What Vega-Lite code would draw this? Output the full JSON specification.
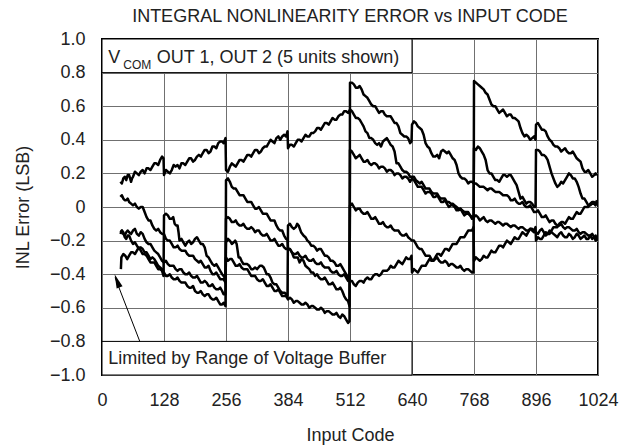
{
  "$schema": "https://vega.github.io/schema/vega-lite/v6.json",
  "width": 496,
  "height": 336,
  "autosize": {"type": "none"},
  "padding": {"left": 102, "top": 39, "right": 36, "bottom": 72},
  "background": "white",
  "config": {
    "view": {"stroke": "#000", "strokeWidth": 2},
    "font": "Liberation Sans",
    "axis": {
      "grid": true, "gridColor": "#707070", "gridWidth": 1, "domain": false, "ticks": false, "tickSize": 0,
      "labelFont": "Liberation Sans", "labelFontSize": 18, "labelColor": "#222", "labelFlush": false, "labelOverlap": false, "labelBound": false,
      "titleFont": "Liberation Sans", "titleFontSize": 18, "titleFontWeight": "normal", "titleColor": "#222"
    }
  },
  "title": {"text": "INTEGRAL NONLINEARITY ERROR vs INPUT CODE", "anchor": "middle", "frame": "group", "fontSize": 18, "fontWeight": "normal", "font": "Liberation Sans", "color": "#222", "offset": 4},
  "resolve": {"axis": {"x": "independent", "y": "independent"}},
  "datasets": {
    "inl": [
{"u":1,"c":38,"v":0.15},{"u":1,"c":44,"v":0.17},{"u":1,"c":50,"v":0.16},{"u":1,"c":56,"v":0.19},{"u":1,"c":60,"v":0.15},{"u":1,"c":64,"v":0.18},{"u":1,"c":72,"v":0.20},{"u":1,"c":80,"v":0.21},{"u":1,"c":88,"v":0.20},{"u":1,"c":96,"v":0.23},{"u":1,"c":104,"v":0.24},{"u":1,"c":112,"v":0.26},{"u":1,"c":120,"v":0.28},{"u":1,"c":127,"v":0.29},
{"u":1,"c":128,"v":0.19},{"u":1,"c":136,"v":0.21},{"u":1,"c":144,"v":0.22},{"u":1,"c":152,"v":0.24},{"u":1,"c":160,"v":0.23},{"u":1,"c":168,"v":0.26},{"u":1,"c":176,"v":0.27},{"u":1,"c":184,"v":0.29},{"u":1,"c":192,"v":0.28},{"u":1,"c":200,"v":0.31},{"u":1,"c":208,"v":0.32},{"u":1,"c":216,"v":0.34},{"u":1,"c":224,"v":0.33},{"u":1,"c":232,"v":0.36},{"u":1,"c":240,"v":0.38},{"u":1,"c":248,"v":0.39},{"u":1,"c":255,"v":0.41},
{"u":1,"c":256,"v":0.22},{"u":1,"c":264,"v":0.24},{"u":1,"c":272,"v":0.25},{"u":1,"c":280,"v":0.26},{"u":1,"c":288,"v":0.28},{"u":1,"c":296,"v":0.29},{"u":1,"c":304,"v":0.31},{"u":1,"c":312,"v":0.32},{"u":1,"c":320,"v":0.34},{"u":1,"c":328,"v":0.33},{"u":1,"c":336,"v":0.36},{"u":1,"c":344,"v":0.38},{"u":1,"c":352,"v":0.39},{"u":1,"c":360,"v":0.41},{"u":1,"c":368,"v":0.40},{"u":1,"c":376,"v":0.43},{"u":1,"c":383,"v":0.45},
{"u":1,"c":384,"v":0.35},{"u":1,"c":392,"v":0.37},{"u":1,"c":400,"v":0.38},{"u":1,"c":408,"v":0.40},{"u":1,"c":416,"v":0.41},{"u":1,"c":424,"v":0.42},{"u":1,"c":432,"v":0.44},{"u":1,"c":440,"v":0.45},{"u":1,"c":448,"v":0.47},{"u":1,"c":456,"v":0.48},{"u":1,"c":464,"v":0.50},{"u":1,"c":472,"v":0.51},{"u":1,"c":480,"v":0.52},{"u":1,"c":488,"v":0.54},{"u":1,"c":496,"v":0.55},{"u":1,"c":504,"v":0.57},{"u":1,"c":512,"v":0.58},
{"u":1,"c":520,"v":0.55},{"u":1,"c":528,"v":0.53},{"u":1,"c":536,"v":0.50},{"u":1,"c":544,"v":0.45},{"u":1,"c":552,"v":0.41},{"u":1,"c":560,"v":0.40},{"u":1,"c":568,"v":0.37},{"u":1,"c":576,"v":0.36},{"u":1,"c":584,"v":0.40},{"u":1,"c":592,"v":0.39},{"u":1,"c":600,"v":0.36},{"u":1,"c":608,"v":0.26},{"u":1,"c":616,"v":0.24},{"u":1,"c":624,"v":0.21},{"u":1,"c":632,"v":0.20},{"u":1,"c":640,"v":0.18},
{"u":1,"c":648,"v":0.16},{"u":1,"c":656,"v":0.14},{"u":1,"c":664,"v":0.13},{"u":1,"c":672,"v":0.11},{"u":1,"c":680,"v":0.09},{"u":1,"c":688,"v":0.08},{"u":1,"c":696,"v":0.06},{"u":1,"c":704,"v":0.05},{"u":1,"c":712,"v":0.03},{"u":1,"c":720,"v":0.02},{"u":1,"c":728,"v":0.01},{"u":1,"c":736,"v":-0.01},{"u":1,"c":744,"v":-0.02},{"u":1,"c":752,"v":-0.03},{"u":1,"c":760,"v":-0.05},{"u":1,"c":767,"v":-0.07},
{"u":1,"c":768,"v":0.35},{"u":1,"c":776,"v":0.36},{"u":1,"c":784,"v":0.33},{"u":1,"c":792,"v":0.28},{"u":1,"c":800,"v":0.20},{"u":1,"c":808,"v":0.18},{"u":1,"c":816,"v":0.16},{"u":1,"c":824,"v":0.17},{"u":1,"c":832,"v":0.19},{"u":1,"c":840,"v":0.19},{"u":1,"c":848,"v":0.17},{"u":1,"c":856,"v":0.13},{"u":1,"c":864,"v":0.05},{"u":1,"c":872,"v":0.04},{"u":1,"c":880,"v":0.03},{"u":1,"c":888,"v":0.02},{"u":1,"c":895,"v":0.0},
{"u":1,"c":896,"v":0.34},{"u":1,"c":904,"v":0.33},{"u":1,"c":912,"v":0.31},{"u":1,"c":920,"v":0.28},{"u":1,"c":928,"v":0.20},{"u":1,"c":936,"v":0.14},{"u":1,"c":944,"v":0.13},{"u":1,"c":952,"v":0.14},{"u":1,"c":960,"v":0.18},{"u":1,"c":968,"v":0.19},{"u":1,"c":976,"v":0.17},{"u":1,"c":984,"v":0.12},{"u":1,"c":992,"v":0.05},{"u":1,"c":1000,"v":0.03},{"u":1,"c":1008,"v":0.01},{"u":1,"c":1016,"v":0.02},{"u":1,"c":1022,"v":0.03},
{"u":1,"c":41,"v":0.14},{"u":1,"c":47,"v":0.18},{"u":1,"c":53,"v":0.19},{"u":1,"c":58,"v":0.17},{"u":1,"c":62,"v":0.17},{"u":1,"c":68,"v":0.21},{"u":1,"c":76,"v":0.19},{"u":1,"c":84,"v":0.22},{"u":1,"c":92,"v":0.23},{"u":1,"c":100,"v":0.22},{"u":1,"c":108,"v":0.26},{"u":1,"c":116,"v":0.25},{"u":1,"c":124,"v":0.30},
{"u":1,"c":132,"v":0.22},{"u":1,"c":140,"v":0.20},{"u":1,"c":148,"v":0.25},{"u":1,"c":156,"v":0.25},{"u":1,"c":164,"v":0.26},{"u":1,"c":172,"v":0.25},{"u":1,"c":180,"v":0.29},{"u":1,"c":188,"v":0.27},{"u":1,"c":196,"v":0.30},{"u":1,"c":204,"v":0.30},{"u":1,"c":212,"v":0.34},{"u":1,"c":220,"v":0.32},{"u":1,"c":228,"v":0.36},{"u":1,"c":236,"v":0.35},{"u":1,"c":244,"v":0.39},{"u":1,"c":251,"v":0.38},
{"u":1,"c":260,"v":0.21},{"u":1,"c":268,"v":0.26},{"u":1,"c":276,"v":0.24},{"u":1,"c":284,"v":0.28},{"u":1,"c":292,"v":0.27},{"u":1,"c":300,"v":0.31},{"u":1,"c":308,"v":0.30},{"u":1,"c":316,"v":0.34},{"u":1,"c":324,"v":0.32},{"u":1,"c":332,"v":0.35},{"u":1,"c":340,"v":0.36},{"u":1,"c":348,"v":0.40},{"u":1,"c":356,"v":0.38},{"u":1,"c":364,"v":0.42},{"u":1,"c":372,"v":0.42},{"u":1,"c":380,"v":0.42},
{"u":1,"c":388,"v":0.37},{"u":1,"c":396,"v":0.36},{"u":1,"c":404,"v":0.40},{"u":1,"c":412,"v":0.39},{"u":1,"c":420,"v":0.43},{"u":1,"c":428,"v":0.42},{"u":1,"c":436,"v":0.44},{"u":1,"c":444,"v":0.47},{"u":1,"c":452,"v":0.46},{"u":1,"c":460,"v":0.50},{"u":1,"c":468,"v":0.49},{"u":1,"c":476,"v":0.53},{"u":1,"c":484,"v":0.52},{"u":1,"c":492,"v":0.55},{"u":1,"c":500,"v":0.57},{"u":1,"c":508,"v":0.56},
{"u":1,"c":516,"v":0.57},{"u":1,"c":524,"v":0.53},{"u":1,"c":532,"v":0.52},{"u":1,"c":540,"v":0.48},{"u":1,"c":548,"v":0.44},{"u":1,"c":556,"v":0.41},{"u":1,"c":564,"v":0.38},{"u":1,"c":572,"v":0.38},{"u":1,"c":580,"v":0.39},{"u":1,"c":588,"v":0.41},{"u":1,"c":596,"v":0.37},{"u":1,"c":604,"v":0.33},{"u":1,"c":612,"v":0.26},{"u":1,"c":620,"v":0.22},{"u":1,"c":628,"v":0.21},{"u":1,"c":636,"v":0.18},
{"u":1,"c":644,"v":0.18},{"u":1,"c":652,"v":0.15},{"u":1,"c":660,"v":0.15},{"u":1,"c":668,"v":0.11},{"u":1,"c":676,"v":0.11},{"u":1,"c":684,"v":0.08},{"u":1,"c":692,"v":0.08},{"u":1,"c":700,"v":0.05},{"u":1,"c":708,"v":0.05},{"u":1,"c":716,"v":0.03},{"u":1,"c":724,"v":0.02},{"u":1,"c":732,"v":0.0},{"u":1,"c":740,"v":-0.01},{"u":1,"c":748,"v":-0.03},{"u":1,"c":756,"v":-0.03},{"u":1,"c":764,"v":-0.06},
{"u":1,"c":772,"v":0.34},{"u":1,"c":780,"v":0.35},{"u":1,"c":788,"v":0.31},{"u":1,"c":796,"v":0.22},{"u":1,"c":804,"v":0.20},{"u":1,"c":812,"v":0.16},{"u":1,"c":820,"v":0.15},{"u":1,"c":828,"v":0.19},{"u":1,"c":836,"v":0.18},{"u":1,"c":844,"v":0.19},{"u":1,"c":852,"v":0.15},{"u":1,"c":860,"v":0.09},{"u":1,"c":868,"v":0.06},{"u":1,"c":876,"v":0.02},{"u":1,"c":884,"v":0.03},{"u":1,"c":892,"v":0.0},
{"u":1,"c":900,"v":0.34},{"u":1,"c":908,"v":0.31},{"u":1,"c":916,"v":0.30},{"u":1,"c":924,"v":0.24},{"u":1,"c":932,"v":0.17},{"u":1,"c":940,"v":0.12},{"u":1,"c":948,"v":0.15},{"u":1,"c":956,"v":0.16},{"u":1,"c":964,"v":0.20},{"u":1,"c":972,"v":0.17},{"u":1,"c":980,"v":0.15},{"u":1,"c":988,"v":0.08},{"u":1,"c":996,"v":0.05},{"u":1,"c":1004,"v":0.01},{"u":1,"c":1012,"v":0.02},{"u":1,"c":1019,"v":0.01},

{"u":2,"c":38,"v":-0.16},{"u":2,"c":44,"v":-0.15},{"u":2,"c":50,"v":-0.19},{"u":2,"c":56,"v":-0.17},{"u":2,"c":64,"v":-0.22},{"u":2,"c":72,"v":-0.23},{"u":2,"c":80,"v":-0.24},{"u":2,"c":88,"v":-0.27},{"u":2,"c":96,"v":-0.29},{"u":2,"c":104,"v":-0.30},{"u":2,"c":112,"v":-0.33},{"u":2,"c":120,"v":-0.36},{"u":2,"c":128,"v":-0.39},
{"u":2,"c":136,"v":-0.41},{"u":2,"c":144,"v":-0.42},{"u":2,"c":152,"v":-0.43},{"u":2,"c":160,"v":-0.44},{"u":2,"c":168,"v":-0.45},{"u":2,"c":176,"v":-0.47},{"u":2,"c":184,"v":-0.48},{"u":2,"c":192,"v":-0.50},{"u":2,"c":200,"v":-0.51},{"u":2,"c":208,"v":-0.52},{"u":2,"c":216,"v":-0.52},{"u":2,"c":224,"v":-0.54},{"u":2,"c":232,"v":-0.55},{"u":2,"c":240,"v":-0.56},{"u":2,"c":248,"v":-0.58},{"u":2,"c":255,"v":-0.59},
{"u":2,"c":256,"v":0.16},{"u":2,"c":264,"v":0.15},{"u":2,"c":272,"v":0.11},{"u":2,"c":280,"v":0.09},{"u":2,"c":288,"v":0.07},{"u":2,"c":296,"v":0.05},{"u":2,"c":304,"v":0.03},{"u":2,"c":312,"v":0.01},{"u":2,"c":320,"v":-0.01},{"u":2,"c":328,"v":-0.02},{"u":2,"c":336,"v":-0.04},{"u":2,"c":344,"v":-0.06},{"u":2,"c":352,"v":-0.08},{"u":2,"c":360,"v":-0.11},{"u":2,"c":368,"v":-0.14},{"u":2,"c":376,"v":-0.17},{"u":2,"c":383,"v":-0.19},
{"u":2,"c":384,"v":-0.25},{"u":2,"c":392,"v":-0.27},{"u":2,"c":400,"v":-0.30},{"u":2,"c":408,"v":-0.33},{"u":2,"c":416,"v":-0.32},{"u":2,"c":424,"v":-0.36},{"u":2,"c":432,"v":-0.39},{"u":2,"c":440,"v":-0.41},{"u":2,"c":448,"v":-0.42},{"u":2,"c":456,"v":-0.43},{"u":2,"c":464,"v":-0.44},{"u":2,"c":472,"v":-0.46},{"u":2,"c":480,"v":-0.47},{"u":2,"c":488,"v":-0.49},{"u":2,"c":496,"v":-0.50},{"u":2,"c":504,"v":-0.55},{"u":2,"c":511,"v":-0.59},
{"u":2,"c":512,"v":0.34},{"u":2,"c":520,"v":0.31},{"u":2,"c":528,"v":0.30},{"u":2,"c":536,"v":0.29},{"u":2,"c":544,"v":0.27},{"u":2,"c":552,"v":0.26},{"u":2,"c":560,"v":0.26},{"u":2,"c":568,"v":0.25},{"u":2,"c":576,"v":0.24},{"u":2,"c":584,"v":0.23},{"u":2,"c":592,"v":0.22},{"u":2,"c":600,"v":0.21},{"u":2,"c":608,"v":0.20},{"u":2,"c":616,"v":0.19},{"u":2,"c":624,"v":0.18},{"u":2,"c":632,"v":0.17},{"u":2,"c":640,"v":0.17},
{"u":2,"c":648,"v":0.14},{"u":2,"c":656,"v":0.12},{"u":2,"c":664,"v":0.10},{"u":2,"c":672,"v":0.09},{"u":2,"c":680,"v":0.08},{"u":2,"c":688,"v":0.06},{"u":2,"c":696,"v":0.05},{"u":2,"c":704,"v":0.03},{"u":2,"c":712,"v":0.02},{"u":2,"c":720,"v":0.01},{"u":2,"c":728,"v":0.0},{"u":2,"c":736,"v":-0.02},{"u":2,"c":744,"v":-0.03},{"u":2,"c":752,"v":-0.04},{"u":2,"c":760,"v":-0.05},{"u":2,"c":768,"v":-0.06},
{"u":2,"c":776,"v":-0.06},{"u":2,"c":784,"v":-0.07},{"u":2,"c":792,"v":-0.08},{"u":2,"c":800,"v":-0.08},{"u":2,"c":808,"v":-0.09},{"u":2,"c":816,"v":-0.09},{"u":2,"c":824,"v":-0.10},{"u":2,"c":832,"v":-0.10},{"u":2,"c":840,"v":-0.11},{"u":2,"c":848,"v":-0.11},{"u":2,"c":856,"v":-0.12},{"u":2,"c":864,"v":-0.12},{"u":2,"c":872,"v":-0.13},{"u":2,"c":880,"v":-0.14},{"u":2,"c":888,"v":-0.14},{"u":2,"c":896,"v":-0.15},
{"u":2,"c":904,"v":-0.14},{"u":2,"c":912,"v":-0.15},{"u":2,"c":920,"v":-0.16},{"u":2,"c":928,"v":-0.15},{"u":2,"c":936,"v":-0.17},{"u":2,"c":944,"v":-0.16},{"u":2,"c":952,"v":-0.17},{"u":2,"c":960,"v":-0.18},{"u":2,"c":968,"v":-0.17},{"u":2,"c":976,"v":-0.18},{"u":2,"c":984,"v":-0.17},{"u":2,"c":992,"v":-0.18},{"u":2,"c":1000,"v":-0.19},{"u":2,"c":1008,"v":-0.17},{"u":2,"c":1016,"v":-0.18},{"u":2,"c":1022,"v":-0.19},
{"u":2,"c":41,"v":-0.14},{"u":2,"c":47,"v":-0.18},{"u":2,"c":53,"v":-0.17},{"u":2,"c":60,"v":-0.20},{"u":2,"c":68,"v":-0.21},{"u":2,"c":76,"v":-0.25},{"u":2,"c":84,"v":-0.25},{"u":2,"c":92,"v":-0.27},{"u":2,"c":100,"v":-0.31},{"u":2,"c":108,"v":-0.31},{"u":2,"c":116,"v":-0.35},{"u":2,"c":124,"v":-0.37},
{"u":2,"c":132,"v":-0.41},{"u":2,"c":140,"v":-0.40},{"u":2,"c":148,"v":-0.43},{"u":2,"c":156,"v":-0.42},{"u":2,"c":164,"v":-0.45},{"u":2,"c":172,"v":-0.45},{"u":2,"c":180,"v":-0.48},{"u":2,"c":188,"v":-0.47},{"u":2,"c":196,"v":-0.51},{"u":2,"c":204,"v":-0.50},{"u":2,"c":212,"v":-0.53},{"u":2,"c":220,"v":-0.52},{"u":2,"c":228,"v":-0.55},{"u":2,"c":236,"v":-0.54},{"u":2,"c":244,"v":-0.58},{"u":2,"c":251,"v":-0.57},
{"u":2,"c":260,"v":0.17},{"u":2,"c":268,"v":0.12},{"u":2,"c":276,"v":0.11},{"u":2,"c":284,"v":0.07},{"u":2,"c":292,"v":0.07},{"u":2,"c":300,"v":0.03},{"u":2,"c":308,"v":0.03},{"u":2,"c":316,"v":-0.01},{"u":2,"c":324,"v":0.0},{"u":2,"c":332,"v":-0.04},{"u":2,"c":340,"v":-0.04},{"u":2,"c":348,"v":-0.08},{"u":2,"c":356,"v":-0.08},{"u":2,"c":364,"v":-0.13},{"u":2,"c":372,"v":-0.14},{"u":2,"c":380,"v":-0.19},
{"u":2,"c":388,"v":-0.25},{"u":2,"c":396,"v":-0.30},{"u":2,"c":404,"v":-0.30},{"u":2,"c":412,"v":-0.31},{"u":2,"c":420,"v":-0.35},{"u":2,"c":428,"v":-0.37},{"u":2,"c":436,"v":-0.39},{"u":2,"c":444,"v":-0.40},{"u":2,"c":452,"v":-0.43},{"u":2,"c":460,"v":-0.42},{"u":2,"c":468,"v":-0.46},{"u":2,"c":476,"v":-0.45},{"u":2,"c":484,"v":-0.49},{"u":2,"c":492,"v":-0.48},{"u":2,"c":500,"v":-0.53},{"u":2,"c":508,"v":-0.56},
{"u":2,"c":516,"v":0.33},{"u":2,"c":524,"v":0.29},{"u":2,"c":532,"v":0.31},{"u":2,"c":540,"v":0.27},{"u":2,"c":548,"v":0.28},{"u":2,"c":556,"v":0.25},{"u":2,"c":564,"v":0.26},{"u":2,"c":572,"v":0.23},{"u":2,"c":580,"v":0.24},{"u":2,"c":588,"v":0.21},{"u":2,"c":596,"v":0.22},{"u":2,"c":604,"v":0.19},{"u":2,"c":612,"v":0.20},{"u":2,"c":620,"v":0.17},{"u":2,"c":628,"v":0.18},{"u":2,"c":636,"v":0.15},
{"u":2,"c":644,"v":0.16},{"u":2,"c":652,"v":0.12},{"u":2,"c":660,"v":0.12},{"u":2,"c":668,"v":0.08},{"u":2,"c":676,"v":0.09},{"u":2,"c":684,"v":0.06},{"u":2,"c":692,"v":0.07},{"u":2,"c":700,"v":0.03},{"u":2,"c":708,"v":0.04},{"u":2,"c":716,"v":0.0},{"u":2,"c":724,"v":0.01},{"u":2,"c":732,"v":-0.02},{"u":2,"c":740,"v":-0.01},{"u":2,"c":748,"v":-0.05},{"u":2,"c":756,"v":-0.04},{"u":2,"c":764,"v":-0.07},
{"u":2,"c":772,"v":-0.05},{"u":2,"c":780,"v":-0.08},{"u":2,"c":788,"v":-0.06},{"u":2,"c":796,"v":-0.09},{"u":2,"c":804,"v":-0.08},{"u":2,"c":812,"v":-0.10},{"u":2,"c":820,"v":-0.09},{"u":2,"c":828,"v":-0.11},{"u":2,"c":836,"v":-0.10},{"u":2,"c":844,"v":-0.12},{"u":2,"c":852,"v":-0.11},{"u":2,"c":860,"v":-0.13},{"u":2,"c":868,"v":-0.12},{"u":2,"c":876,"v":-0.14},{"u":2,"c":884,"v":-0.13},{"u":2,"c":892,"v":-0.15},
{"u":2,"c":900,"v":-0.16},{"u":2,"c":908,"v":-0.13},{"u":2,"c":916,"v":-0.17},{"u":2,"c":924,"v":-0.14},{"u":2,"c":932,"v":-0.16},{"u":2,"c":940,"v":-0.18},{"u":2,"c":948,"v":-0.15},{"u":2,"c":956,"v":-0.18},{"u":2,"c":964,"v":-0.16},{"u":2,"c":972,"v":-0.19},{"u":2,"c":980,"v":-0.16},{"u":2,"c":988,"v":-0.19},{"u":2,"c":996,"v":-0.17},{"u":2,"c":1004,"v":-0.19},{"u":2,"c":1012,"v":-0.19},{"u":2,"c":1019,"v":-0.17},

{"u":3,"c":39,"v":-0.37},{"u":3,"c":40,"v":-0.30},{"u":3,"c":48,"v":-0.29},{"u":3,"c":56,"v":-0.29},{"u":3,"c":64,"v":-0.27},{"u":3,"c":72,"v":-0.26},{"u":3,"c":80,"v":-0.26},{"u":3,"c":88,"v":-0.28},{"u":3,"c":96,"v":-0.31},{"u":3,"c":104,"v":-0.33},{"u":3,"c":112,"v":-0.35},{"u":3,"c":120,"v":-0.37},{"u":3,"c":127,"v":-0.41},
{"u":3,"c":128,"v":-0.05},{"u":3,"c":136,"v":-0.05},{"u":3,"c":144,"v":-0.07},{"u":3,"c":150,"v":-0.10},{"u":3,"c":156,"v":-0.11},{"u":3,"c":160,"v":-0.20},{"u":3,"c":168,"v":-0.21},{"u":3,"c":176,"v":-0.21},{"u":3,"c":184,"v":-0.22},{"u":3,"c":192,"v":-0.19},{"u":3,"c":200,"v":-0.20},{"u":3,"c":208,"v":-0.22},{"u":3,"c":216,"v":-0.29},{"u":3,"c":224,"v":-0.32},{"u":3,"c":232,"v":-0.35},{"u":3,"c":240,"v":-0.36},{"u":3,"c":248,"v":-0.40},{"u":3,"c":255,"v":-0.43},
{"u":3,"c":256,"v":-0.30},{"u":3,"c":264,"v":-0.31},{"u":3,"c":272,"v":-0.33},{"u":3,"c":280,"v":-0.35},{"u":3,"c":288,"v":-0.36},{"u":3,"c":296,"v":-0.37},{"u":3,"c":304,"v":-0.39},{"u":3,"c":312,"v":-0.41},{"u":3,"c":320,"v":-0.43},{"u":3,"c":328,"v":-0.44},{"u":3,"c":336,"v":-0.45},{"u":3,"c":344,"v":-0.47},{"u":3,"c":352,"v":-0.48},{"u":3,"c":360,"v":-0.50},{"u":3,"c":368,"v":-0.51},{"u":3,"c":376,"v":-0.53},{"u":3,"c":384,"v":-0.55},
{"u":3,"c":392,"v":-0.55},{"u":3,"c":400,"v":-0.56},{"u":3,"c":408,"v":-0.57},{"u":3,"c":416,"v":-0.58},{"u":3,"c":424,"v":-0.58},{"u":3,"c":432,"v":-0.59},{"u":3,"c":440,"v":-0.60},{"u":3,"c":448,"v":-0.61},{"u":3,"c":456,"v":-0.61},{"u":3,"c":464,"v":-0.62},{"u":3,"c":472,"v":-0.63},{"u":3,"c":480,"v":-0.64},{"u":3,"c":488,"v":-0.65},{"u":3,"c":496,"v":-0.64},{"u":3,"c":504,"v":-0.67},{"u":3,"c":511,"v":-0.68},
{"u":3,"c":512,"v":0.74},{"u":3,"c":520,"v":0.73},{"u":3,"c":528,"v":0.71},{"u":3,"c":536,"v":0.70},{"u":3,"c":544,"v":0.66},{"u":3,"c":552,"v":0.63},{"u":3,"c":560,"v":0.60},{"u":3,"c":568,"v":0.58},{"u":3,"c":576,"v":0.57},{"u":3,"c":584,"v":0.55},{"u":3,"c":592,"v":0.54},{"u":3,"c":600,"v":0.52},{"u":3,"c":608,"v":0.50},{"u":3,"c":616,"v":0.44},{"u":3,"c":624,"v":0.42},{"u":3,"c":632,"v":0.41},{"u":3,"c":639,"v":0.39},
{"u":3,"c":640,"v":0.49},{"u":3,"c":648,"v":0.50},{"u":3,"c":656,"v":0.47},{"u":3,"c":664,"v":0.43},{"u":3,"c":672,"v":0.36},{"u":3,"c":680,"v":0.32},{"u":3,"c":688,"v":0.30},{"u":3,"c":696,"v":0.29},{"u":3,"c":704,"v":0.34},{"u":3,"c":712,"v":0.32},{"u":3,"c":720,"v":0.31},{"u":3,"c":728,"v":0.28},{"u":3,"c":736,"v":0.20},{"u":3,"c":744,"v":0.17},{"u":3,"c":752,"v":0.16},{"u":3,"c":760,"v":0.15},{"u":3,"c":768,"v":0.14},
{"u":3,"c":776,"v":0.13},{"u":3,"c":784,"v":0.12},{"u":3,"c":792,"v":0.11},{"u":3,"c":800,"v":0.11},{"u":3,"c":808,"v":0.10},{"u":3,"c":816,"v":0.09},{"u":3,"c":824,"v":0.08},{"u":3,"c":832,"v":0.07},{"u":3,"c":840,"v":0.06},{"u":3,"c":848,"v":0.04},{"u":3,"c":856,"v":0.03},{"u":3,"c":864,"v":0.02},{"u":3,"c":872,"v":0.01},{"u":3,"c":880,"v":0.0},{"u":3,"c":888,"v":-0.01},{"u":3,"c":896,"v":-0.03},
{"u":3,"c":904,"v":-0.04},{"u":3,"c":912,"v":-0.06},{"u":3,"c":920,"v":-0.07},{"u":3,"c":928,"v":-0.08},{"u":3,"c":936,"v":-0.10},{"u":3,"c":944,"v":-0.11},{"u":3,"c":952,"v":-0.12},{"u":3,"c":960,"v":-0.12},{"u":3,"c":968,"v":-0.13},{"u":3,"c":976,"v":-0.14},{"u":3,"c":984,"v":-0.15},{"u":3,"c":992,"v":-0.15},{"u":3,"c":1000,"v":-0.16},{"u":3,"c":1008,"v":-0.17},{"u":3,"c":1016,"v":-0.18},{"u":3,"c":1022,"v":-0.19},
{"u":3,"c":44,"v":-0.28},{"u":3,"c":52,"v":-0.31},{"u":3,"c":60,"v":-0.27},{"u":3,"c":68,"v":-0.28},{"u":3,"c":76,"v":-0.24},{"u":3,"c":84,"v":-0.28},{"u":3,"c":92,"v":-0.29},{"u":3,"c":100,"v":-0.33},{"u":3,"c":108,"v":-0.33},{"u":3,"c":116,"v":-0.37},{"u":3,"c":124,"v":-0.38},
{"u":3,"c":132,"v":-0.04},{"u":3,"c":140,"v":-0.07},{"u":3,"c":147,"v":-0.06},{"u":3,"c":153,"v":-0.11},{"u":3,"c":158,"v":-0.15},{"u":3,"c":164,"v":-0.19},{"u":3,"c":172,"v":-0.23},{"u":3,"c":180,"v":-0.20},{"u":3,"c":188,"v":-0.21},{"u":3,"c":196,"v":-0.18},{"u":3,"c":204,"v":-0.22},{"u":3,"c":212,"v":-0.24},{"u":3,"c":220,"v":-0.30},{"u":3,"c":228,"v":-0.34},{"u":3,"c":236,"v":-0.34},{"u":3,"c":244,"v":-0.38},{"u":3,"c":251,"v":-0.41},
{"u":3,"c":260,"v":-0.32},{"u":3,"c":268,"v":-0.31},{"u":3,"c":276,"v":-0.35},{"u":3,"c":284,"v":-0.34},{"u":3,"c":292,"v":-0.37},{"u":3,"c":300,"v":-0.37},{"u":3,"c":308,"v":-0.41},{"u":3,"c":316,"v":-0.41},{"u":3,"c":324,"v":-0.44},{"u":3,"c":332,"v":-0.43},{"u":3,"c":340,"v":-0.47},{"u":3,"c":348,"v":-0.46},{"u":3,"c":356,"v":-0.50},{"u":3,"c":364,"v":-0.49},{"u":3,"c":372,"v":-0.53},{"u":3,"c":380,"v":-0.53},
{"u":3,"c":388,"v":-0.54},{"u":3,"c":396,"v":-0.57},{"u":3,"c":404,"v":-0.56},{"u":3,"c":412,"v":-0.58},{"u":3,"c":420,"v":-0.57},{"u":3,"c":428,"v":-0.60},{"u":3,"c":436,"v":-0.59},{"u":3,"c":444,"v":-0.61},{"u":3,"c":452,"v":-0.60},{"u":3,"c":460,"v":-0.63},{"u":3,"c":468,"v":-0.62},{"u":3,"c":476,"v":-0.64},{"u":3,"c":484,"v":-0.63},{"u":3,"c":492,"v":-0.66},{"u":3,"c":500,"v":-0.65},{"u":3,"c":508,"v":-0.69},
{"u":3,"c":516,"v":0.74},{"u":3,"c":524,"v":0.71},{"u":3,"c":532,"v":0.72},{"u":3,"c":540,"v":0.67},{"u":3,"c":548,"v":0.65},{"u":3,"c":556,"v":0.61},{"u":3,"c":564,"v":0.60},{"u":3,"c":572,"v":0.56},{"u":3,"c":580,"v":0.57},{"u":3,"c":588,"v":0.54},{"u":3,"c":596,"v":0.54},{"u":3,"c":604,"v":0.50},{"u":3,"c":612,"v":0.48},{"u":3,"c":620,"v":0.43},{"u":3,"c":628,"v":0.42},{"u":3,"c":636,"v":0.38},
{"u":3,"c":644,"v":0.51},{"u":3,"c":652,"v":0.48},{"u":3,"c":660,"v":0.46},{"u":3,"c":668,"v":0.38},{"u":3,"c":676,"v":0.35},{"u":3,"c":684,"v":0.30},{"u":3,"c":692,"v":0.31},{"u":3,"c":700,"v":0.33},{"u":3,"c":708,"v":0.33},{"u":3,"c":716,"v":0.33},{"u":3,"c":724,"v":0.29},{"u":3,"c":732,"v":0.25},{"u":3,"c":740,"v":0.18},{"u":3,"c":748,"v":0.17},{"u":3,"c":756,"v":0.14},{"u":3,"c":764,"v":0.15},
{"u":3,"c":772,"v":0.14},{"u":3,"c":780,"v":0.12},{"u":3,"c":788,"v":0.12},{"u":3,"c":796,"v":0.10},{"u":3,"c":804,"v":0.11},{"u":3,"c":812,"v":0.09},{"u":3,"c":820,"v":0.09},{"u":3,"c":828,"v":0.07},{"u":3,"c":836,"v":0.07},{"u":3,"c":844,"v":0.04},{"u":3,"c":852,"v":0.05},{"u":3,"c":860,"v":0.02},{"u":3,"c":868,"v":0.03},{"u":3,"c":876,"v":0.0},{"u":3,"c":884,"v":0.01},{"u":3,"c":892,"v":-0.03},
{"u":3,"c":900,"v":-0.02},{"u":3,"c":908,"v":-0.06},{"u":3,"c":916,"v":-0.05},{"u":3,"c":924,"v":-0.09},{"u":3,"c":932,"v":-0.08},{"u":3,"c":940,"v":-0.11},{"u":3,"c":948,"v":-0.10},{"u":3,"c":956,"v":-0.13},{"u":3,"c":964,"v":-0.12},{"u":3,"c":972,"v":-0.14},{"u":3,"c":980,"v":-0.13},{"u":3,"c":988,"v":-0.16},{"u":3,"c":996,"v":-0.15},{"u":3,"c":1004,"v":-0.17},{"u":3,"c":1012,"v":-0.16},{"u":3,"c":1019,"v":-0.20},

{"u":4,"c":38,"v":0.06},{"u":4,"c":44,"v":0.05},{"u":4,"c":50,"v":0.04},{"u":4,"c":56,"v":0.03},{"u":4,"c":64,"v":0.01},{"u":4,"c":72,"v":0.0},{"u":4,"c":80,"v":0.0},{"u":4,"c":88,"v":-0.03},{"u":4,"c":96,"v":-0.08},{"u":4,"c":104,"v":-0.11},{"u":4,"c":112,"v":-0.14},{"u":4,"c":120,"v":-0.15},{"u":4,"c":128,"v":-0.16},
{"u":4,"c":136,"v":-0.20},{"u":4,"c":144,"v":-0.22},{"u":4,"c":152,"v":-0.24},{"u":4,"c":160,"v":-0.25},{"u":4,"c":168,"v":-0.26},{"u":4,"c":176,"v":-0.28},{"u":4,"c":184,"v":-0.29},{"u":4,"c":192,"v":-0.31},{"u":4,"c":200,"v":-0.33},{"u":4,"c":208,"v":-0.34},{"u":4,"c":216,"v":-0.36},{"u":4,"c":224,"v":-0.38},{"u":4,"c":232,"v":-0.40},{"u":4,"c":240,"v":-0.41},{"u":4,"c":248,"v":-0.43},{"u":4,"c":255,"v":-0.45},
{"u":4,"c":256,"v":-0.21},{"u":4,"c":264,"v":-0.20},{"u":4,"c":272,"v":-0.21},{"u":4,"c":278,"v":-0.22},{"u":4,"c":282,"v":-0.30},{"u":4,"c":288,"v":-0.32},{"u":4,"c":296,"v":-0.34},{"u":4,"c":304,"v":-0.35},{"u":4,"c":312,"v":-0.37},{"u":4,"c":320,"v":-0.37},{"u":4,"c":326,"v":-0.35},{"u":4,"c":334,"v":-0.36},{"u":4,"c":340,"v":-0.40},{"u":4,"c":348,"v":-0.42},{"u":4,"c":356,"v":-0.46},{"u":4,"c":364,"v":-0.48},{"u":4,"c":372,"v":-0.51},{"u":4,"c":383,"v":-0.53},
{"u":4,"c":384,"v":-0.11},{"u":4,"c":392,"v":-0.12},{"u":4,"c":400,"v":-0.12},{"u":4,"c":406,"v":-0.11},{"u":4,"c":416,"v":-0.17},{"u":4,"c":424,"v":-0.20},{"u":4,"c":432,"v":-0.23},{"u":4,"c":440,"v":-0.24},{"u":4,"c":448,"v":-0.25},{"u":4,"c":456,"v":-0.27},{"u":4,"c":464,"v":-0.29},{"u":4,"c":472,"v":-0.32},{"u":4,"c":480,"v":-0.33},{"u":4,"c":488,"v":-0.35},{"u":4,"c":496,"v":-0.36},{"u":4,"c":504,"v":-0.40},{"u":4,"c":511,"v":-0.43},
{"u":4,"c":512,"v":0.01},{"u":4,"c":520,"v":0.0},{"u":4,"c":528,"v":-0.01},{"u":4,"c":536,"v":-0.03},{"u":4,"c":544,"v":-0.04},{"u":4,"c":552,"v":-0.05},{"u":4,"c":560,"v":-0.07},{"u":4,"c":568,"v":-0.08},{"u":4,"c":576,"v":-0.10},{"u":4,"c":584,"v":-0.11},{"u":4,"c":592,"v":-0.12},{"u":4,"c":600,"v":-0.13},{"u":4,"c":608,"v":-0.14},{"u":4,"c":616,"v":-0.16},{"u":4,"c":624,"v":-0.17},{"u":4,"c":632,"v":-0.18},{"u":4,"c":640,"v":-0.20},
{"u":4,"c":648,"v":-0.22},{"u":4,"c":656,"v":-0.25},{"u":4,"c":664,"v":-0.27},{"u":4,"c":672,"v":-0.29},{"u":4,"c":680,"v":-0.31},{"u":4,"c":688,"v":-0.31},{"u":4,"c":696,"v":-0.32},{"u":4,"c":704,"v":-0.33},{"u":4,"c":712,"v":-0.33},{"u":4,"c":720,"v":-0.34},{"u":4,"c":728,"v":-0.35},{"u":4,"c":736,"v":-0.36},{"u":4,"c":744,"v":-0.37},{"u":4,"c":752,"v":-0.37},{"u":4,"c":760,"v":-0.38},{"u":4,"c":767,"v":-0.39},
{"u":4,"c":768,"v":0.75},{"u":4,"c":776,"v":0.73},{"u":4,"c":784,"v":0.71},{"u":4,"c":792,"v":0.68},{"u":4,"c":800,"v":0.64},{"u":4,"c":808,"v":0.60},{"u":4,"c":816,"v":0.58},{"u":4,"c":824,"v":0.57},{"u":4,"c":832,"v":0.56},{"u":4,"c":840,"v":0.55},{"u":4,"c":848,"v":0.53},{"u":4,"c":856,"v":0.52},{"u":4,"c":864,"v":0.47},{"u":4,"c":872,"v":0.42},{"u":4,"c":880,"v":0.42},{"u":4,"c":888,"v":0.41},{"u":4,"c":895,"v":0.40},
{"u":4,"c":896,"v":0.49},{"u":4,"c":904,"v":0.48},{"u":4,"c":912,"v":0.46},{"u":4,"c":920,"v":0.42},{"u":4,"c":928,"v":0.39},{"u":4,"c":936,"v":0.36},{"u":4,"c":944,"v":0.35},{"u":4,"c":952,"v":0.34},{"u":4,"c":960,"v":0.33},{"u":4,"c":968,"v":0.32},{"u":4,"c":976,"v":0.31},{"u":4,"c":984,"v":0.28},{"u":4,"c":992,"v":0.23},{"u":4,"c":1000,"v":0.21},{"u":4,"c":1008,"v":0.20},{"u":4,"c":1016,"v":0.19},{"u":4,"c":1022,"v":0.19},
{"u":4,"c":41,"v":0.07},{"u":4,"c":47,"v":0.04},{"u":4,"c":53,"v":0.05},{"u":4,"c":60,"v":0.02},{"u":4,"c":68,"v":0.02},{"u":4,"c":76,"v":-0.01},{"u":4,"c":84,"v":0.0},{"u":4,"c":92,"v":-0.06},{"u":4,"c":100,"v":-0.08},{"u":4,"c":108,"v":-0.13},{"u":4,"c":116,"v":-0.13},{"u":4,"c":124,"v":-0.16},
{"u":4,"c":132,"v":-0.19},{"u":4,"c":140,"v":-0.20},{"u":4,"c":148,"v":-0.24},{"u":4,"c":156,"v":-0.23},{"u":4,"c":164,"v":-0.26},{"u":4,"c":172,"v":-0.26},{"u":4,"c":180,"v":-0.29},{"u":4,"c":188,"v":-0.29},{"u":4,"c":196,"v":-0.32},{"u":4,"c":204,"v":-0.32},{"u":4,"c":212,"v":-0.36},{"u":4,"c":220,"v":-0.35},{"u":4,"c":228,"v":-0.40},{"u":4,"c":236,"v":-0.39},{"u":4,"c":244,"v":-0.43},{"u":4,"c":251,"v":-0.43},
{"u":4,"c":260,"v":-0.19},{"u":4,"c":268,"v":-0.22},{"u":4,"c":275,"v":-0.20},{"u":4,"c":280,"v":-0.26},{"u":4,"c":285,"v":-0.30},{"u":4,"c":292,"v":-0.34},{"u":4,"c":300,"v":-0.34},{"u":4,"c":308,"v":-0.37},{"u":4,"c":316,"v":-0.36},{"u":4,"c":323,"v":-0.36},{"u":4,"c":330,"v":-0.35},{"u":4,"c":337,"v":-0.38},{"u":4,"c":344,"v":-0.40},{"u":4,"c":352,"v":-0.45},{"u":4,"c":360,"v":-0.46},{"u":4,"c":368,"v":-0.50},{"u":4,"c":377,"v":-0.51},
{"u":4,"c":388,"v":-0.10},{"u":4,"c":396,"v":-0.13},{"u":4,"c":403,"v":-0.10},{"u":4,"c":411,"v":-0.15},{"u":4,"c":420,"v":-0.18},{"u":4,"c":428,"v":-0.21},{"u":4,"c":436,"v":-0.23},{"u":4,"c":444,"v":-0.26},{"u":4,"c":452,"v":-0.25},{"u":4,"c":460,"v":-0.29},{"u":4,"c":468,"v":-0.30},{"u":4,"c":476,"v":-0.32},{"u":4,"c":484,"v":-0.35},{"u":4,"c":492,"v":-0.34},{"u":4,"c":500,"v":-0.38},{"u":4,"c":508,"v":-0.42},
{"u":4,"c":516,"v":0.02},{"u":4,"c":524,"v":-0.02},{"u":4,"c":532,"v":-0.01},{"u":4,"c":540,"v":-0.04},{"u":4,"c":548,"v":-0.03},{"u":4,"c":556,"v":-0.07},{"u":4,"c":564,"v":-0.06},{"u":4,"c":572,"v":-0.10},{"u":4,"c":580,"v":-0.09},{"u":4,"c":588,"v":-0.12},{"u":4,"c":596,"v":-0.11},{"u":4,"c":604,"v":-0.14},{"u":4,"c":612,"v":-0.14},{"u":4,"c":620,"v":-0.17},{"u":4,"c":628,"v":-0.16},{"u":4,"c":636,"v":-0.19},
{"u":4,"c":644,"v":-0.20},{"u":4,"c":652,"v":-0.24},{"u":4,"c":660,"v":-0.25},{"u":4,"c":668,"v":-0.29},{"u":4,"c":676,"v":-0.29},{"u":4,"c":684,"v":-0.32},{"u":4,"c":692,"v":-0.30},{"u":4,"c":700,"v":-0.33},{"u":4,"c":708,"v":-0.32},{"u":4,"c":716,"v":-0.35},{"u":4,"c":724,"v":-0.34},{"u":4,"c":732,"v":-0.36},{"u":4,"c":740,"v":-0.35},{"u":4,"c":748,"v":-0.38},{"u":4,"c":756,"v":-0.37},{"u":4,"c":764,"v":-0.39},
{"u":4,"c":772,"v":0.74},{"u":4,"c":780,"v":0.72},{"u":4,"c":788,"v":0.70},{"u":4,"c":796,"v":0.67},{"u":4,"c":804,"v":0.61},{"u":4,"c":812,"v":0.60},{"u":4,"c":820,"v":0.56},{"u":4,"c":828,"v":0.58},{"u":4,"c":836,"v":0.54},{"u":4,"c":844,"v":0.55},{"u":4,"c":852,"v":0.53},{"u":4,"c":860,"v":0.51},{"u":4,"c":868,"v":0.44},{"u":4,"c":876,"v":0.43},{"u":4,"c":884,"v":0.40},{"u":4,"c":892,"v":0.42},
{"u":4,"c":900,"v":0.50},{"u":4,"c":908,"v":0.46},{"u":4,"c":916,"v":0.45},{"u":4,"c":924,"v":0.40},{"u":4,"c":932,"v":0.37},{"u":4,"c":940,"v":0.36},{"u":4,"c":948,"v":0.33},{"u":4,"c":956,"v":0.35},{"u":4,"c":964,"v":0.32},{"u":4,"c":972,"v":0.33},{"u":4,"c":980,"v":0.29},{"u":4,"c":988,"v":0.27},{"u":4,"c":996,"v":0.21},{"u":4,"c":1004,"v":0.22},{"u":4,"c":1012,"v":0.18},{"u":4,"c":1019,"v":0.20},

{"u":5,"c":38,"v":-0.15},{"u":5,"c":44,"v":-0.16},{"u":5,"c":50,"v":-0.15},{"u":5,"c":56,"v":-0.15},{"u":5,"c":64,"v":-0.14},{"u":5,"c":72,"v":-0.16},{"u":5,"c":80,"v":-0.15},{"u":5,"c":88,"v":-0.19},{"u":5,"c":96,"v":-0.22},{"u":5,"c":104,"v":-0.24},{"u":5,"c":112,"v":-0.27},{"u":5,"c":120,"v":-0.30},{"u":5,"c":128,"v":-0.33},
{"u":5,"c":136,"v":-0.34},{"u":5,"c":144,"v":-0.35},{"u":5,"c":152,"v":-0.37},{"u":5,"c":160,"v":-0.37},{"u":5,"c":168,"v":-0.39},{"u":5,"c":176,"v":-0.40},{"u":5,"c":184,"v":-0.41},{"u":5,"c":192,"v":-0.42},{"u":5,"c":200,"v":-0.43},{"u":5,"c":208,"v":-0.45},{"u":5,"c":216,"v":-0.45},{"u":5,"c":224,"v":-0.47},{"u":5,"c":232,"v":-0.48},{"u":5,"c":240,"v":-0.49},{"u":5,"c":248,"v":-0.50},{"u":5,"c":255,"v":-0.52},
{"u":5,"c":256,"v":-0.07},{"u":5,"c":264,"v":-0.07},{"u":5,"c":272,"v":-0.09},{"u":5,"c":280,"v":-0.10},{"u":5,"c":288,"v":-0.11},{"u":5,"c":296,"v":-0.12},{"u":5,"c":304,"v":-0.13},{"u":5,"c":312,"v":-0.13},{"u":5,"c":320,"v":-0.14},{"u":5,"c":328,"v":-0.16},{"u":5,"c":336,"v":-0.17},{"u":5,"c":344,"v":-0.18},{"u":5,"c":352,"v":-0.20},{"u":5,"c":360,"v":-0.21},{"u":5,"c":368,"v":-0.23},{"u":5,"c":376,"v":-0.24},{"u":5,"c":384,"v":-0.25},
{"u":5,"c":392,"v":-0.27},{"u":5,"c":400,"v":-0.28},{"u":5,"c":408,"v":-0.29},{"u":5,"c":416,"v":-0.30},{"u":5,"c":424,"v":-0.31},{"u":5,"c":432,"v":-0.32},{"u":5,"c":440,"v":-0.33},{"u":5,"c":448,"v":-0.34},{"u":5,"c":456,"v":-0.35},{"u":5,"c":464,"v":-0.36},{"u":5,"c":472,"v":-0.38},{"u":5,"c":480,"v":-0.39},{"u":5,"c":488,"v":-0.40},{"u":5,"c":496,"v":-0.41},{"u":5,"c":504,"v":-0.42},{"u":5,"c":512,"v":-0.44},
{"u":5,"c":520,"v":-0.46},{"u":5,"c":528,"v":-0.45},{"u":5,"c":536,"v":-0.44},{"u":5,"c":544,"v":-0.43},{"u":5,"c":552,"v":-0.43},{"u":5,"c":560,"v":-0.41},{"u":5,"c":568,"v":-0.40},{"u":5,"c":576,"v":-0.40},{"u":5,"c":584,"v":-0.38},{"u":5,"c":592,"v":-0.37},{"u":5,"c":600,"v":-0.36},{"u":5,"c":608,"v":-0.34},{"u":5,"c":616,"v":-0.33},{"u":5,"c":624,"v":-0.32},{"u":5,"c":632,"v":-0.31},{"u":5,"c":639,"v":-0.29},
{"u":5,"c":640,"v":-0.39},{"u":5,"c":648,"v":-0.38},{"u":5,"c":656,"v":-0.37},{"u":5,"c":664,"v":-0.35},{"u":5,"c":672,"v":-0.33},{"u":5,"c":680,"v":-0.32},{"u":5,"c":688,"v":-0.30},{"u":5,"c":696,"v":-0.28},{"u":5,"c":704,"v":-0.27},{"u":5,"c":712,"v":-0.25},{"u":5,"c":720,"v":-0.24},{"u":5,"c":728,"v":-0.22},{"u":5,"c":736,"v":-0.20},{"u":5,"c":744,"v":-0.18},{"u":5,"c":752,"v":-0.16},{"u":5,"c":760,"v":-0.14},{"u":5,"c":767,"v":-0.12},
{"u":5,"c":768,"v":-0.32},{"u":5,"c":776,"v":-0.31},{"u":5,"c":784,"v":-0.31},{"u":5,"c":792,"v":-0.30},{"u":5,"c":800,"v":-0.28},{"u":5,"c":808,"v":-0.27},{"u":5,"c":816,"v":-0.25},{"u":5,"c":824,"v":-0.23},{"u":5,"c":832,"v":-0.22},{"u":5,"c":840,"v":-0.21},{"u":5,"c":848,"v":-0.20},{"u":5,"c":856,"v":-0.19},{"u":5,"c":864,"v":-0.17},{"u":5,"c":872,"v":-0.16},{"u":5,"c":880,"v":-0.15},{"u":5,"c":888,"v":-0.13},{"u":5,"c":895,"v":-0.12},
{"u":5,"c":896,"v":-0.20},{"u":5,"c":904,"v":-0.19},{"u":5,"c":912,"v":-0.17},{"u":5,"c":920,"v":-0.16},{"u":5,"c":928,"v":-0.14},{"u":5,"c":936,"v":-0.12},{"u":5,"c":944,"v":-0.10},{"u":5,"c":952,"v":-0.09},{"u":5,"c":960,"v":-0.08},{"u":5,"c":968,"v":-0.07},{"u":5,"c":976,"v":-0.05},{"u":5,"c":984,"v":-0.04},{"u":5,"c":992,"v":-0.02},{"u":5,"c":1000,"v":0.0},{"u":5,"c":1008,"v":0.02},{"u":5,"c":1016,"v":0.03},{"u":5,"c":1022,"v":0.04},
{"u":5,"c":41,"v":-0.14},{"u":5,"c":47,"v":-0.17},{"u":5,"c":53,"v":-0.14},{"u":5,"c":60,"v":-0.16},{"u":5,"c":68,"v":-0.13},{"u":5,"c":76,"v":-0.17},{"u":5,"c":84,"v":-0.16},{"u":5,"c":92,"v":-0.21},{"u":5,"c":100,"v":-0.22},{"u":5,"c":108,"v":-0.26},{"u":5,"c":116,"v":-0.28},{"u":5,"c":124,"v":-0.32},
{"u":5,"c":132,"v":-0.32},{"u":5,"c":140,"v":-0.35},{"u":5,"c":148,"v":-0.35},{"u":5,"c":156,"v":-0.38},{"u":5,"c":164,"v":-0.37},{"u":5,"c":172,"v":-0.40},{"u":5,"c":180,"v":-0.39},{"u":5,"c":188,"v":-0.42},{"u":5,"c":196,"v":-0.41},{"u":5,"c":204,"v":-0.45},{"u":5,"c":212,"v":-0.44},{"u":5,"c":220,"v":-0.47},{"u":5,"c":228,"v":-0.46},{"u":5,"c":236,"v":-0.49},{"u":5,"c":244,"v":-0.48},{"u":5,"c":251,"v":-0.52},
{"u":5,"c":260,"v":-0.06},{"u":5,"c":268,"v":-0.09},{"u":5,"c":276,"v":-0.08},{"u":5,"c":284,"v":-0.11},{"u":5,"c":292,"v":-0.10},{"u":5,"c":300,"v":-0.13},{"u":5,"c":308,"v":-0.12},{"u":5,"c":316,"v":-0.15},{"u":5,"c":324,"v":-0.14},{"u":5,"c":332,"v":-0.17},{"u":5,"c":340,"v":-0.16},{"u":5,"c":348,"v":-0.20},{"u":5,"c":356,"v":-0.19},{"u":5,"c":364,"v":-0.23},{"u":5,"c":372,"v":-0.22},{"u":5,"c":380,"v":-0.25},
{"u":5,"c":388,"v":-0.25},{"u":5,"c":396,"v":-0.28},{"u":5,"c":404,"v":-0.27},{"u":5,"c":412,"v":-0.30},{"u":5,"c":420,"v":-0.29},{"u":5,"c":428,"v":-0.32},{"u":5,"c":436,"v":-0.31},{"u":5,"c":444,"v":-0.34},{"u":5,"c":452,"v":-0.33},{"u":5,"c":460,"v":-0.36},{"u":5,"c":468,"v":-0.36},{"u":5,"c":476,"v":-0.39},{"u":5,"c":484,"v":-0.38},{"u":5,"c":492,"v":-0.41},{"u":5,"c":500,"v":-0.40},{"u":5,"c":508,"v":-0.44},
{"u":5,"c":516,"v":-0.44},{"u":5,"c":524,"v":-0.47},{"u":5,"c":532,"v":-0.44},{"u":5,"c":540,"v":-0.45},{"u":5,"c":548,"v":-0.42},{"u":5,"c":556,"v":-0.43},{"u":5,"c":564,"v":-0.40},{"u":5,"c":572,"v":-0.41},{"u":5,"c":580,"v":-0.38},{"u":5,"c":588,"v":-0.38},{"u":5,"c":596,"v":-0.35},{"u":5,"c":604,"v":-0.36},{"u":5,"c":612,"v":-0.32},{"u":5,"c":620,"v":-0.34},{"u":5,"c":628,"v":-0.30},{"u":5,"c":636,"v":-0.31},
{"u":5,"c":644,"v":-0.37},{"u":5,"c":652,"v":-0.39},{"u":5,"c":660,"v":-0.35},{"u":5,"c":668,"v":-0.35},{"u":5,"c":676,"v":-0.31},{"u":5,"c":684,"v":-0.32},{"u":5,"c":692,"v":-0.28},{"u":5,"c":700,"v":-0.29},{"u":5,"c":708,"v":-0.25},{"u":5,"c":716,"v":-0.26},{"u":5,"c":724,"v":-0.22},{"u":5,"c":732,"v":-0.22},{"u":5,"c":740,"v":-0.18},{"u":5,"c":748,"v":-0.18},{"u":5,"c":756,"v":-0.14},{"u":5,"c":764,"v":-0.14},
{"u":5,"c":772,"v":-0.30},{"u":5,"c":780,"v":-0.32},{"u":5,"c":788,"v":-0.29},{"u":5,"c":796,"v":-0.30},{"u":5,"c":804,"v":-0.26},{"u":5,"c":812,"v":-0.27},{"u":5,"c":820,"v":-0.23},{"u":5,"c":828,"v":-0.24},{"u":5,"c":836,"v":-0.20},{"u":5,"c":844,"v":-0.22},{"u":5,"c":852,"v":-0.18},{"u":5,"c":860,"v":-0.19},{"u":5,"c":868,"v":-0.15},{"u":5,"c":876,"v":-0.17},{"u":5,"c":884,"v":-0.13},{"u":5,"c":892,"v":-0.14},
{"u":5,"c":900,"v":-0.18},{"u":5,"c":908,"v":-0.19},{"u":5,"c":916,"v":-0.15},{"u":5,"c":924,"v":-0.16},{"u":5,"c":932,"v":-0.12},{"u":5,"c":940,"v":-0.12},{"u":5,"c":948,"v":-0.09},{"u":5,"c":956,"v":-0.10},{"u":5,"c":964,"v":-0.06},{"u":5,"c":972,"v":-0.07},{"u":5,"c":980,"v":-0.03},{"u":5,"c":988,"v":-0.04},{"u":5,"c":996,"v":0.0},{"u":5,"c":1004,"v":0.0},{"u":5,"c":1012,"v":0.03},{"u":5,"c":1019,"v":0.02}
    ],
    "one": [{}]
  },
  "layer": [
    {
      "data": {"name": "inl"},
      "mark": {"type": "line", "color": "#000", "strokeWidth": 2.5, "strokeJoin": "round"},
      "encoding": {
        "x": {"field": "c", "type": "quantitative",
          "scale": {"domain": [0, 1024], "nice": false, "zero": false},
          "axis": {"values": [0, 128, 256, 384, 512, 640, 768, 896, 1024], "format": "d", "title": "Input Code", "labelPadding": 16, "labelOverlap": false, "labelFlush": false, "titleY": 65, "titleBaseline": "alphabetic"}},
        "y": {"field": "v", "type": "quantitative",
          "scale": {"domain": [-1, 1], "nice": false},
          "axis": {"values": [-1, -0.8, -0.6, -0.4, -0.2, 0, 0.2, 0.4, 0.6, 0.8, 1], "title": "INL Error (LSB)", "labelPadding": 17, "labelOverlap": false, "labelFlush": false,
            "labelExpr": "datum.value === 0 ? '0' : format(datum.value, '.1f')",
            "titleX": -74, "titleY": 168, "titleBaseline": "alphabetic", "titleAngle": -90, "titleAlign": "center"}},
        "detail": {"field": "u", "type": "nominal"}
      }
    },
    {
      "data": {"name": "one"},
      "mark": {"type": "rect", "fill": "white", "stroke": "#000", "strokeWidth": 1},
      "encoding": {"x": {"datum": 0, "type": "quantitative", "axis": null}, "x2": {"datum": 640}, "y": {"datum": 0.8, "type": "quantitative", "axis": null}, "y2": {"datum": 1.0}}
    },
    {
      "data": {"name": "one"},
      "mark": {"type": "rect", "fill": "white", "stroke": "#000", "strokeWidth": 1},
      "encoding": {"x": {"datum": 0, "type": "quantitative", "axis": null}, "x2": {"datum": 640}, "y": {"datum": -1.0, "type": "quantitative", "axis": null}, "y2": {"datum": -0.8}}
    },
    {
      "data": {"name": "one"},
      "mark": {"type": "text", "text": "V", "align": "left", "baseline": "alphabetic", "fontSize": 18, "font": "Liberation Sans", "color": "#222"},
      "encoding": {"x": {"datum": 13, "type": "quantitative", "axis": null}, "y": {"datum": 0.855, "type": "quantitative", "axis": null}}
    },
    {
      "data": {"name": "one"},
      "mark": {"type": "text", "text": "COM", "align": "left", "baseline": "alphabetic", "fontSize": 12, "font": "Liberation Sans", "color": "#222"},
      "encoding": {"x": {"datum": 44, "type": "quantitative", "axis": null}, "y": {"datum": 0.821, "type": "quantitative", "axis": null}}
    },
    {
      "data": {"name": "one"},
      "mark": {"type": "text", "text": "OUT 1, OUT 2 (5 units shown)", "align": "left", "baseline": "alphabetic", "fontSize": 18, "font": "Liberation Sans", "color": "#222"},
      "encoding": {"x": {"datum": 113, "type": "quantitative", "axis": null}, "y": {"datum": 0.855, "type": "quantitative", "axis": null}}
    },
    {
      "data": {"name": "one"},
      "mark": {"type": "text", "text": "Limited by Range of Voltage Buffer", "align": "left", "baseline": "alphabetic", "fontSize": 18, "font": "Liberation Sans", "color": "#222"},
      "encoding": {"x": {"datum": 13, "type": "quantitative", "axis": null}, "y": {"datum": -0.935, "type": "quantitative", "axis": null}}
    },
    {
      "data": {"name": "one"},
      "mark": {"type": "rule", "color": "#000", "strokeWidth": 1},
      "encoding": {"x": {"datum": 78, "type": "quantitative", "axis": null}, "y": {"datum": -0.8, "type": "quantitative", "axis": null}, "x2": {"datum": 27}, "y2": {"datum": -0.42}}
    },
    {
      "data": {"name": "one"},
      "mark": {"type": "point", "shape": "M0,0L-0.45,2L0.45,2Z", "size": 196, "filled": true, "color": "#000", "opacity": 1, "angle": 339},
      "encoding": {"x": {"datum": 26, "type": "quantitative", "axis": null}, "y": {"datum": -0.40, "type": "quantitative", "axis": null}}
    }
  ]
}
